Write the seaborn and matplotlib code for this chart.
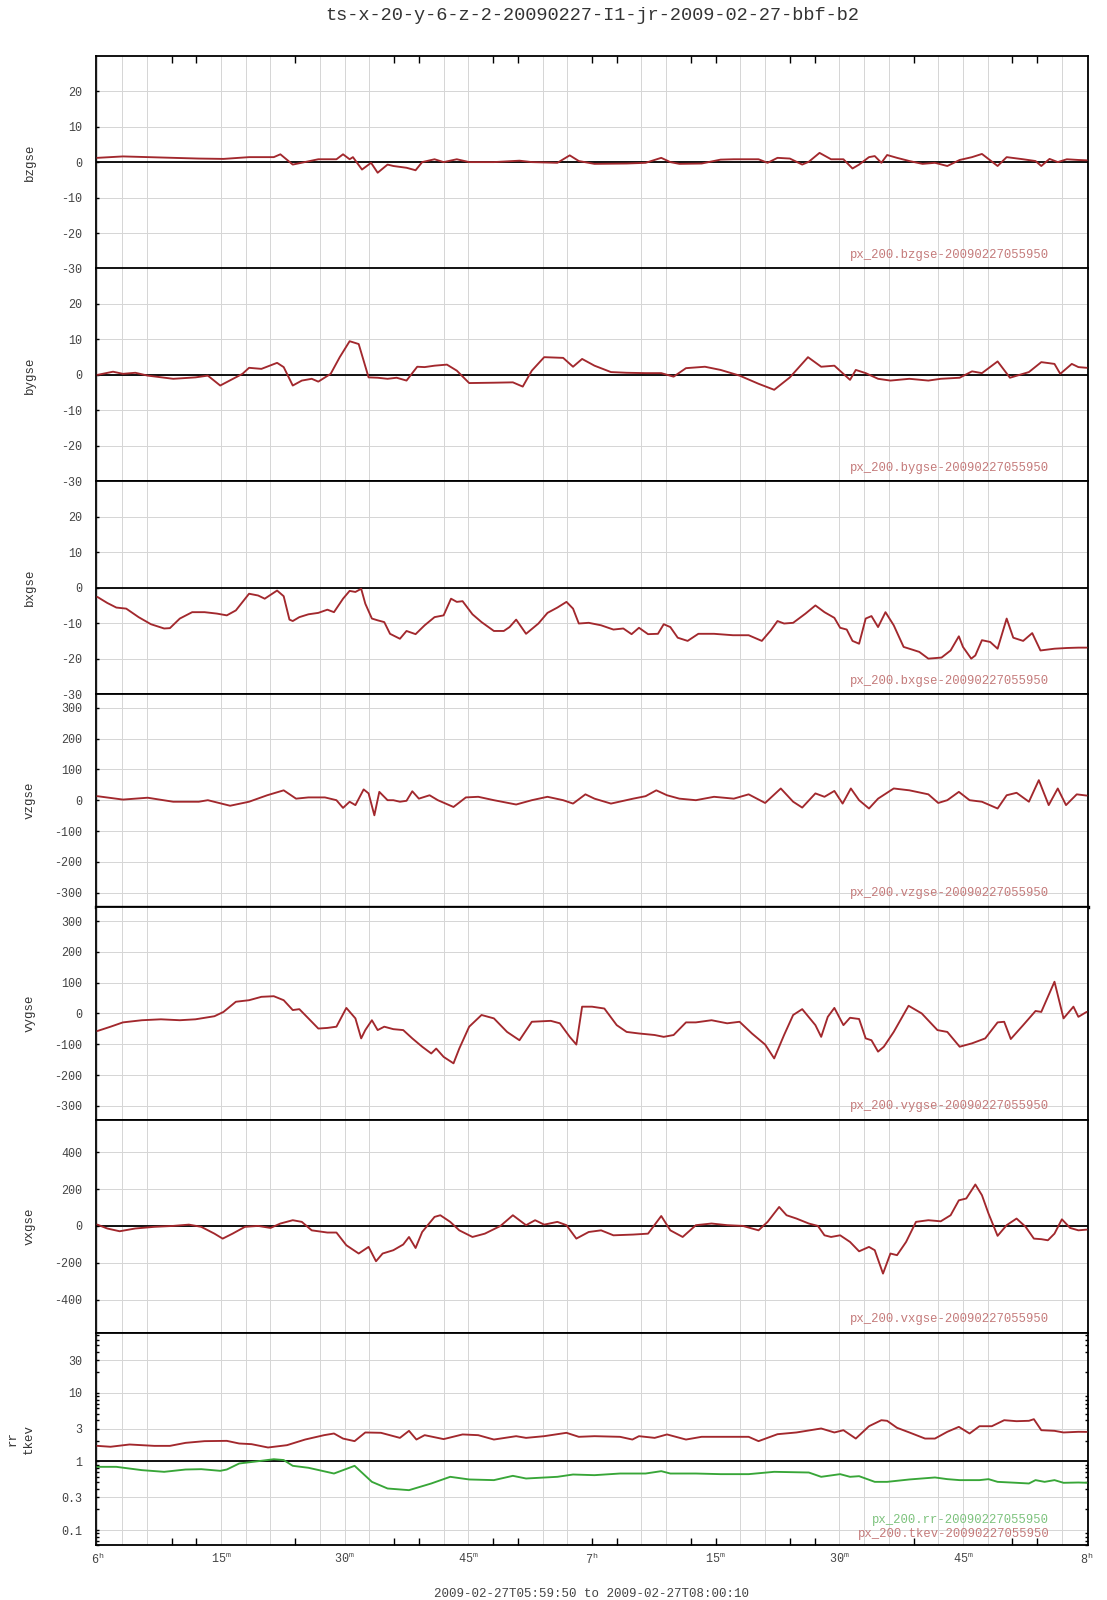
import numpy as np
import pandas as pd
import matplotlib
matplotlib.use("Agg")
import matplotlib.pyplot as plt
import seaborn as sns
from matplotlib.ticker import MultipleLocator, LogLocator, NullFormatter

sns.set_theme(style="white")
plt.rcParams["font.family"] = ["Liberation Mono", "DejaVu Sans Mono"]
plt.rcParams["mathtext.fontset"] = "custom"
plt.rcParams["mathtext.rm"] = "Liberation Mono"
plt.rcParams["mathtext.it"] = "Liberation Mono"

# minutes after 06:00
bz_t = [0, 3.1, 6.2, 9.2, 12.3, 15.3, 18.4, 21.4, 22.2, 23.7, 26.8, 29.0, 29.8, 30.6, 31.0, 32.1,
        33.2, 34.0, 35.2, 35.9, 37.5, 38.6, 39.4, 40.9, 42.0, 43.6, 45.1, 48.1, 51.2, 52.7, 55.8,
        57.3, 58.4, 60.3, 64.2, 66.5, 68.4, 69.5, 70.6, 73.3, 75.6, 77.2, 80.2, 81.3, 82.5, 84.0,
        85.5, 86.3, 87.6, 89.0, 90.5, 91.6, 92.4, 93.6, 94.3, 95.1, 95.8, 97.0, 98.5, 100.1, 101.6,
        103.1, 104.6, 106.1, 107.3, 109.2, 110.3, 112.3, 113.8, 114.5, 115.5, 116.5, 117.6, 119.0, 120]
bz_v = [1.2, 1.6, 1.4, 1.2, 1.0, 0.9, 1.4, 1.4, 2.2, -0.7, 0.8, 0.8, 2.2, 0.8, 1.4, -2.1,
        -0.2, -3.0, -0.7, -1.1, -1.6, -2.3, 0, 0.8, 0, 0.8, 0, 0, 0.4, 0, -0.2,
        1.9, 0.3, -0.5, -0.4, -0.2, 1.2, 0, -0.5, -0.4, 0.7, 0.8, 0.8, -0.2, 1.2, 1.0,
        -0.7, 0.1, 2.6, 0.8, 0.8, -1.8, -0.7, 1.4, 1.7, -0.2, 2.0, 1.2, 0.3, -0.5, -0.2,
        -1.1, 0.6, 1.4, 2.3, -1.1, 1.4, 0.8, 0.3, -1.1, 0.9, 0, 0.8, 0.6, 0.5]

by_t = [0, 1.9, 3.1, 4.6, 6.1, 9.2, 11.9, 13.4, 14.9, 17.6, 18.4, 19.9, 21.8, 22.6, 23.7, 24.8,
        26.0, 26.8, 28.3, 29.4, 30.6, 31.7, 32.9, 34.0, 35.2, 36.3, 37.5, 38.8, 39.7, 40.9, 42.4,
        43.6, 45.1, 48.1, 50.4, 51.6, 52.7, 54.2, 56.5, 57.7, 58.8, 60.3, 62.3, 64.2, 66.5, 68.4,
        69.9, 71.4, 73.7, 75.6, 77.9, 80.2, 82.1, 84.0, 86.2, 87.8, 89.4, 91.3, 92.0, 93.2, 94.7,
        96.2, 98.5, 100.8, 102.3, 104.6, 106.1, 107.3, 109.2, 110.7, 113.0, 114.5, 116.1, 116.8,
        118.2, 119.0, 120]
by_v = [0, 0.9, 0.3, 0.6, -0.2, -1.1, -0.7, -0.2, -3.0, 0.3, 2.0, 1.7, 3.4, 2.2, -3.0, -1.6,
        -1.1, -1.9, 0.3, 5.0, 9.5, 8.7, -0.7, -0.8, -1.1, -0.8, -1.6, 2.3, 2.2, 2.6, 2.9,
        1.2, -2.3, -2.2, -2.1, -3.3, 1.2, 5.0, 4.8, 2.3, 4.5, 2.6, 0.8, 0.6, 0.5, 0.5,
        -0.5, 1.9, 2.3, 1.4, -0.2, -2.5, -4.2, -0.7, 5.0, 2.3, 2.6, -1.4, 1.4, 0.5, -1.1,
        -1.6, -1.1, -1.6, -1.1, -0.8, 1.0, 0.5, 3.8, -0.8, 0.8, 3.6, 3.1, 0.3,
        3.1, 2.2, 2.0]

bx_t = [0, 1.2, 2.3, 3.5, 5.0, 6.5, 8.1, 8.8, 10.0, 11.5, 13.0, 14.5, 15.7, 16.8, 18.4, 19.5,
        20.3, 21.8, 22.6, 23.3, 23.7, 24.5, 25.6, 26.8, 27.9, 28.7, 29.8, 30.6, 31.3, 32.0, 32.5,
        33.3, 34.0, 34.8, 35.5, 36.7, 37.5, 38.6, 39.7, 40.9, 42.0, 42.9, 43.6, 44.3, 45.5, 46.6,
        48.1, 49.3, 50.0, 50.8, 52.0, 53.5, 54.6, 55.8, 56.9, 57.7, 58.4, 59.6, 61.1, 62.6, 63.8,
        64.8, 65.7, 66.8, 68.0, 68.7, 69.5, 70.4, 71.6, 72.9, 74.8, 77.1, 79.0, 80.6, 81.7, 82.5,
        83.3, 84.4, 85.9, 87.1, 88.2, 89.4, 90.1, 90.9, 91.6, 92.4, 93.2, 93.9, 94.7, 95.6, 96.6,
        97.8, 98.9, 99.7, 100.8, 102.4, 103.5, 104.5, 105.0, 106.0, 106.5, 107.3, 108.3, 109.2,
        110.3, 111.1, 112.3, 113.4, 114.4, 116.1, 117.6, 119.0, 120]
bx_v = [-2.6, -4.3, -5.6, -5.9, -8.3, -10.3, -11.5, -11.4, -8.7, -6.9, -6.9, -7.3, -7.8, -6.4, -1.7, -2.2,
        -3.1, -0.8, -2.4, -9.0, -9.4, -8.3, -7.5, -7.1, -6.2, -6.9, -3.1, -0.9, -1.2, -0.3, -4.5,
        -8.7, -9.2, -9.7, -13.0, -14.4, -12.2, -13.1, -10.6, -8.3, -7.8, -3.1, -4.0, -3.8, -7.5, -9.7,
        -12.2, -12.2, -11.1, -9.0, -13.0, -10.1, -7.1, -5.6, -4.0, -5.9, -10.1, -9.9, -10.6, -11.8, -11.5,
        -13.1, -11.3, -13.1, -13.0, -10.3, -11.1, -14.1, -15.0, -13.0, -13.0, -13.4, -13.4, -15.0, -12.0, -9.4,
        -10.1, -9.9, -7.3, -5.0, -6.9, -8.5, -11.3, -11.8, -15.0, -15.8, -8.7, -8.0, -11.1, -6.9, -10.6,
        -16.7, -17.5, -18.1, -20.0, -19.7, -17.7, -13.7, -16.7, -20.0, -19.1, -14.8, -15.3, -17.2,
        -8.7, -14.1, -15.0, -12.8, -17.7, -17.2, -17.0, -16.9, -16.9]

vz_t = [0, 3.1, 6.1, 9.2, 12.3, 13.4, 16.1, 18.4, 20.6, 22.6, 24.1, 25.6, 27.6, 29.0, 29.8, 30.6,
        31.3, 32.3, 32.9, 33.6, 34.2, 35.2, 35.9, 36.7, 37.5, 38.2, 39.0, 40.3, 41.3, 43.2, 44.7,
        46.2, 48.1, 50.8, 52.7, 54.6, 56.5, 57.7, 59.2, 60.3, 62.3, 65.0, 66.5, 67.8, 69.1, 70.6,
        72.6, 74.8, 77.2, 79.0, 81.0, 82.9, 84.4, 85.5, 87.1, 88.2, 89.4, 90.4, 91.4, 92.4, 93.6,
        94.7, 96.6, 98.5, 100.8, 102.0, 103.1, 104.5, 105.8, 107.3, 109.2, 110.3, 111.5, 113.0,
        114.2, 115.4, 116.5, 117.5, 118.8, 120]
vz_v = [13, 2, 8, -5, -5, 0, -18, -5, 16, 32, 5, 9, 9, 0, -25, -5,
        -16, 35, 22, -49, 27, 0, 0, -5, -2, 29, 5, 16, 0, -22, 9,
        11, 0, -14, 0, 11, 0, -11, 19, 5, -11, 5, 13, 32, 16, 5,
        0, 11, 5, 19, -9, 38, -5, -24, 22, 11, 30, -11, 38, 0, -27,
        5, 38, 32, 19, -9, 0, 27, 0, -5, -27, 16, 24, -5,
        65, -16, 38, -16, 19, 15]

vy_t = [0, 1.6, 3.1, 5.4, 7.7, 10.0, 11.9, 14.2, 15.3, 16.8, 18.4, 19.9, 21.4, 22.6, 23.7, 24.5,
        25.6, 26.8, 27.9, 29.0, 30.2, 31.3, 32.0, 32.5, 33.3, 34.0, 34.8, 35.9, 37.1, 38.2, 39.4,
        40.5, 41.1, 42.0, 43.2, 43.9, 45.1, 46.6, 48.1, 49.7, 51.2, 52.7, 55.0, 56.1, 57.3, 58.1,
        58.8, 60.0, 61.5, 63.0, 64.2, 65.7, 67.6, 68.7, 69.9, 71.4, 72.6, 74.5, 76.4, 77.9, 79.4,
        81.0, 82.1, 83.3, 84.4, 85.5, 87.1, 87.8, 88.6, 89.4, 90.5, 91.3, 92.4, 93.2, 93.9, 94.7,
        95.4, 96.6, 98.4, 100.0, 101.9, 103.1, 104.6, 106.1, 107.7, 109.2, 110.0, 110.8, 112.3,
        113.8, 114.5, 116.1, 117.2, 118.4, 119.0, 120]
vy_v = [-57, -43, -29, -22, -19, -22, -19, -9, 5, 38, 43, 54, 56, 43, 11, 14,
        -16, -49, -47, -43, 18, -16, -81, -54, -22, -54, -43, -51, -54, -81, -108,
        -130, -114, -141, -162, -114, -43, -5, -16, -60, -87, -27, -24, -32, -76, -101,
        22, 22, 16, -38, -60, -65, -70, -76, -70, -29, -29, -22, -32, -27, -65,
        -101, -146, -70, -5, 14, -38, -76, -11, 18, -38, -14, -18, -81, -87, -124,
        -108, -60, 25, 0, -54, -60, -108, -97, -81, -29, -27, -83, -38,
        8, 5, 103, -16, 22, -11, 5]

vx_t = [0, 1.2, 2.7, 4.6, 6.9, 9.2, 11.1, 12.6, 14.2, 15.2, 16.4, 17.9, 19.5, 21.0, 22.2, 23.7,
        24.8, 26.0, 27.9, 29.0, 30.2, 31.7, 32.9, 33.8, 34.6, 35.9, 37.1, 37.8, 38.6, 39.4, 40.9,
        41.6, 42.8, 43.9, 45.5, 47.0, 48.9, 50.4, 52.0, 53.1, 54.2, 55.8, 56.9, 58.1, 59.6, 61.1,
        62.6, 65.0, 66.8, 68.4, 69.5, 71.0, 72.6, 74.5, 76.4, 78.3, 80.2, 81.3, 82.7, 83.6, 84.8,
        86.3, 87.4, 88.2, 89.0, 90.1, 91.3, 92.4, 93.6, 94.3, 95.3, 96.2, 97.0, 98.1, 99.3, 100.8,
        102.3, 103.5, 104.5, 105.4, 106.5, 107.3, 108.1, 109.2, 110.3, 111.5, 112.6, 113.6, 114.5,
        115.3, 116.1, 117.0, 118.0, 119.0, 120]
vx_v = [7, -14, -29, -14, -5, 0, 7, -5, -42, -69, -42, -5, 0, -11, 13, 31,
        22, -24, -36, -36, -105, -150, -114, -192, -150, -132, -101, -60, -120, -33, 49,
        58, 22, -24, -60, -42, 0, 58, 4, 31, 7, 22, 4, -69, -33, -24,
        -51, -47, -42, 54, -24, -60, 4, 13, 4, 0, -24, 22, 103, 58, 40,
        13, 0, -51, -60, -51, -87, -138, -114, -132, -259, -150, -159, -87, 22, 31,
        25, 58, 139, 149, 225, 167, 67, -54, 4, 40, -5, -69, -72,
        -78, -42, 36, -11, -24, -20]

tkev_t = [0, 1.6, 3.9, 6.9, 8.8, 10.7, 13.0, 15.7, 17.2, 18.7, 20.7, 23.0, 25.2, 27.5, 28.7, 29.8,
          31.2, 32.5, 34.4, 36.7, 37.8, 38.7, 39.7, 42.0, 44.3, 46.2, 48.1, 50.8, 52.0, 54.2, 56.9,
          58.4, 60.3, 63.4, 64.9, 65.7, 67.6, 69.1, 71.4, 73.3, 75.6, 79.0, 80.2, 82.5, 84.8, 87.8,
          89.4, 90.5, 92.0, 93.6, 95.1, 95.8, 97.0, 98.5, 100.4, 101.6, 103.1, 104.5, 105.8, 107.0,
          108.5, 110.0, 111.5, 113.0, 113.6, 114.5, 116.1, 117.2, 119.0, 120]
tkev_v = [1.69, 1.64, 1.77, 1.69, 1.69, 1.87, 1.98, 2.0, 1.83, 1.79, 1.6, 1.73, 2.09, 2.42, 2.56, 2.16,
          1.98, 2.65, 2.62, 2.21, 2.8, 2.09, 2.42, 2.12, 2.48, 2.42, 2.09, 2.34, 2.21, 2.34, 2.62,
          2.29, 2.34, 2.29, 2.09, 2.34, 2.21, 2.48, 2.09, 2.29, 2.29, 2.29, 1.98, 2.5, 2.65, 3.03,
          2.65, 2.86, 2.16, 3.27, 4.0, 3.92, 3.1, 2.65, 2.16, 2.16, 2.71, 3.2, 2.56, 3.27,
          3.27, 4.0, 3.87, 3.92, 4.14, 2.86, 2.8, 2.65, 2.71, 2.7]

rr_t = [0, 2.3, 5.4, 8.1, 10.7, 12.6, 14.9, 15.7, 17.2, 19.5, 21.4, 22.6, 23.7, 25.6, 28.7, 29.8,
        31.2, 33.3, 35.2, 37.8, 40.5, 42.8, 45.1, 48.1, 50.4, 52.0, 55.8, 57.7, 60.3, 63.4, 66.5,
        68.4, 69.5, 72.6, 75.6, 79.0, 82.1, 86.3, 87.8, 90.1, 91.3, 92.4, 94.3, 95.8, 98.5, 101.6,
        103.1, 104.6, 107.0, 108.1, 109.2, 111.5, 113.0, 113.8, 114.9, 116.1, 117.2, 119.0, 120]
rr_v = [0.836, 0.836, 0.748, 0.707, 0.764, 0.773, 0.731, 0.764, 0.935, 1.01, 1.08, 1.05, 0.865, 0.81, 0.668, 0.748,
        0.865, 0.505, 0.404, 0.382, 0.478, 0.598, 0.547, 0.535, 0.618, 0.565, 0.598, 0.646, 0.632, 0.668, 0.668,
        0.723, 0.668, 0.668, 0.654, 0.654, 0.707, 0.691, 0.598, 0.654, 0.598, 0.611, 0.505, 0.505, 0.547, 0.585,
        0.553, 0.535, 0.535, 0.553, 0.505, 0.489, 0.478, 0.535, 0.505, 0.535, 0.489, 0.494, 0.49]

RED = "#a2282d"
GREEN = "#38a638"
RED_TXT = "#c47a7a"
GREEN_TXT = "#7cc27c"
GRID = "#d6d6d6"

b_ticks = [-30, -20, -10, 0, 10, 20]
v_ticks = [-300, -200, -100, 0, 100, 200, 300]
vx_ticks = [-400, -200, 0, 200, 400]
log_ticks = [0.1, 0.3, 1, 3, 10, 30]
log_labels = ["0.1", "0.3", "1", "3", "10", "30"]

x_label_pos = [0, 15, 30, 45, 60, 75, 90, 105, 120]
x_label_txt = [r"6$^{\mathrm{h}}$", r"15$^{\mathrm{m}}$", r"30$^{\mathrm{m}}$", r"45$^{\mathrm{m}}$",
               r"7$^{\mathrm{h}}$", r"15$^{\mathrm{m}}$", r"30$^{\mathrm{m}}$", r"45$^{\mathrm{m}}$",
               r"8$^{\mathrm{h}}$"]
edge_ticks = [9, 12, 24, 36, 39, 48, 51, 60, 63, 72, 75, 84, 87, 99, 111, 114]

panels = [
    dict(name="bzgse", series=[(bz_t, bz_v, RED)], notes=[("px_200.bzgse-20090227055950", RED_TXT, 0.063)],
         ylim=(-30, 30), ticks=b_ticks, base=0),
    dict(name="bygse", series=[(by_t, by_v, RED)], notes=[("px_200.bygse-20090227055950", RED_TXT, 0.063)],
         ylim=(-30, 30), ticks=b_ticks, base=0),
    dict(name="bxgse", series=[(bx_t, bx_v, RED)], notes=[("px_200.bxgse-20090227055950", RED_TXT, 0.063)],
         ylim=(-30, 30), ticks=b_ticks, base=0),
    dict(name="vzgse", series=[(vz_t, vz_v, RED)], notes=[("px_200.vzgse-20090227055950", RED_TXT, 0.063)],
         ylim=(-346, 344), ticks=v_ticks, base=None),
    dict(name="vygse", series=[(vy_t, vy_v, RED)], notes=[("px_200.vygse-20090227055950", RED_TXT, 0.063)],
         ylim=(-345, 346), ticks=v_ticks, base=None),
    dict(name="vxgse", series=[(vx_t, vx_v, RED)], notes=[("px_200.vxgse-20090227055950", RED_TXT, 0.063)],
         ylim=(-579, 577), ticks=vx_ticks, base=0),
    dict(name="rr\ntkev", series=[(tkev_t, tkev_v, RED), (rr_t, rr_v, GREEN)],
         notes=[("px_200.rr-20090227055950", GREEN_TXT, 0.117), ("px_200.tkev-20090227055950", RED_TXT, 0.055)],
         ylim=(0.06, 76), ticks=log_ticks, base=1, log=True),
]

W, H = 1107, 1600
fig = plt.figure(figsize=(W / 100, H / 100), dpi=100)
left, right = 96, 1088
top, ph = 55.7, 212.8

for i, p in enumerate(panels):
    y_bot = top + ph * (i + 1)
    ax = fig.add_axes([left / W, 1 - y_bot / H, (right - left) / W, ph / H])
    ax.set_axisbelow(True)
    if p.get("log"):
        ax.set_yscale("log")
    for t, v, c in p["series"]:
        df = pd.DataFrame({"t": t, "v": v})
        sns.lineplot(data=df, x="t", y="v", ax=ax, color=c, lw=1.35, estimator=None, sort=False, zorder=3)
    ax.set_xlim(-1 / 6, 120 + 1 / 6)
    ax.set_ylim(*p["ylim"])
    ax.set_xlabel("")
    ax.set_ylabel("")

    ax.set_yticks(p["ticks"])
    if p.get("log"):
        ax.set_yticklabels(log_labels)
        ax.yaxis.set_minor_locator(LogLocator(base=10, subs=np.arange(2, 10)))
        ax.yaxis.set_minor_formatter(NullFormatter())
        ax.tick_params(axis="y", which="minor", direction="in", length=2, width=1,
                       left=True, right=True, color="black")
    else:
        ax.set_yticklabels([str(v) for v in p["ticks"]])
    ax.tick_params(axis="y", which="major", direction="in", length=2, width=1, color="black",
                   labelsize=8.5, labelcolor="#444444", pad=10, left=True)

    ax.yaxis.grid(True, which="major", color=GRID, lw=0.72)
    ax.xaxis.set_minor_locator(MultipleLocator(3))
    ax.xaxis.grid(True, which="minor", color=GRID, lw=0.72)
    ax.set_xticks(edge_ticks)
    ax.tick_params(axis="x", which="major", direction="in", length=5, width=1, color="black",
                   top=(i == 0), bottom=(i == len(panels) - 1), labelbottom=False)
    ax.tick_params(axis="x", which="minor", length=0)

    if p["base"] is not None:
        ax.axhline(p["base"], color="black", lw=1.3, zorder=2)

    for s in ax.spines.values():
        s.set_color("black")
        s.set_linewidth(1.3)
        s.set_visible(True)
    if i == 3:
        ax.spines["bottom"].set_linewidth(2.4)

    for txt, col, yy in p["notes"]:
        ax.text(0.961, yy, txt, transform=ax.transAxes, ha="right", va="center",
                fontsize=8.8, color=col, zorder=4)

    yc = 1 - (y_bot - ph / 2) / H
    fig.text(30 / W if "\n" not in p["name"] else 21 / W, yc, p["name"], rotation=90,
             ha="center", va="center", fontsize=9, color="#333333", ma="center", linespacing=1.45)

    if i == len(panels) - 1:
        sec = ax.secondary_xaxis("bottom")
        sec.set_xticks(x_label_pos, labels=x_label_txt)
        sec.tick_params(length=0, pad=5, labelsize=8.5, labelcolor="#444444")
        sec.spines["bottom"].set_visible(False)

fig.text(592 / W, 1 - 15 / H, "ts-x-20-y-6-z-2-20090227-I1-jr-2009-02-27-bbf-b2",
         ha="center", va="center", fontsize=13.4, color="#333333")
fig.text(592 / W, 1 - 1594 / H, "2009-02-27T05:59:50 to 2009-02-27T08:00:10",
         ha="center", va="center", fontsize=9, color="#444444")

fig.savefig("out.png", dpi=100)
